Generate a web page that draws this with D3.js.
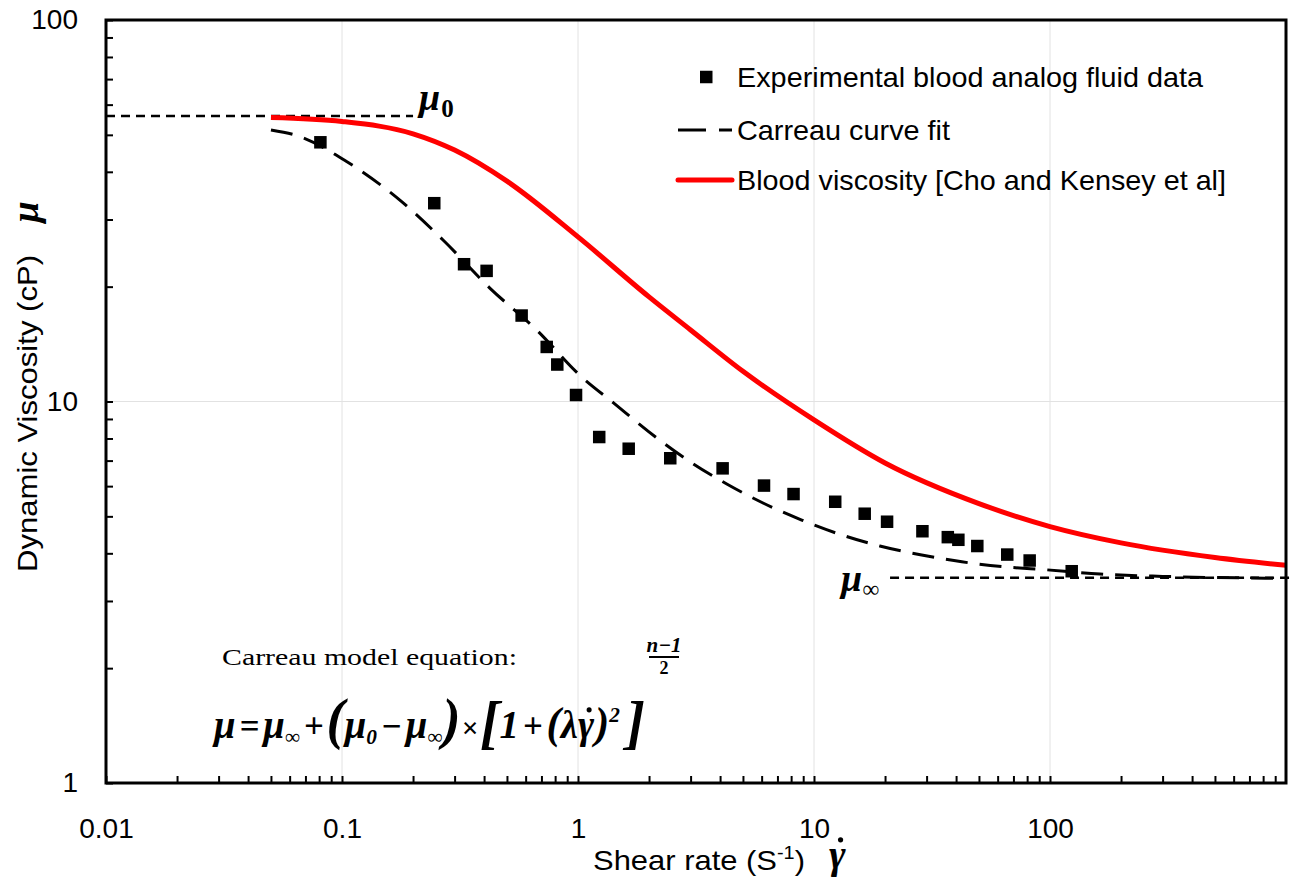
<!DOCTYPE html>
<html>
<head>
<meta charset="utf-8">
<script src="https://cdn.jsdelivr.net/npm/d3@7"></script>
<style>
  body { margin: 0; background: #fff; }
  svg { font-family: "Liberation Sans", Arial, sans-serif; }
  svg text { fill: #000; white-space: pre; }
  .serif { font-family: "Liberation Serif", "Times New Roman", serif; font-weight: bold; font-style: italic; }
  .times { font-family: "Liberation Serif", "Times New Roman", serif; }
</style>
</head>
<body>
<script>
// measured blood analog fluid (squares)
const expShear = [0.081, 0.246, 0.329, 0.410, 0.577, 0.737, 0.817, 0.981, 1.23, 1.64, 2.46, 4.10,
                  6.14, 8.19, 12.3, 16.4, 20.4, 28.8, 36.9, 40.9, 49.2, 65.9, 82.0, 123.6];
const expVisc  = [47.8, 33.1, 22.9, 22.0, 16.8, 13.9, 12.5, 10.4, 8.07, 7.52, 7.10, 6.68,
                  6.02, 5.72, 5.46, 5.08, 4.84, 4.57, 4.41, 4.34, 4.18, 3.97, 3.83, 3.59];

// Carreau curve fit (black dashes)
const fitShear = [0.05, 0.065, 0.105, 0.179, 0.268, 0.424, 0.668, 1.02, 1.41, 2.16, 3.03, 4.27,
                  6.08, 8.87, 13.1, 19.0, 28.6, 42.3, 63.2, 97.1, 163, 300, 1000];
const fitVisc  = [51.5, 49.7, 42.5, 33.4, 26.5, 19.8, 15.4, 11.7, 9.93, 8.02, 6.91, 6.08,
                  5.42, 4.89, 4.47, 4.18, 3.96, 3.80, 3.69, 3.62, 3.53, 3.48, 3.44];

// blood viscosity, Cho and Kensey (red)
const bloodShear = [0.05, 0.1, 0.2, 0.3, 0.5, 1, 2, 3, 5, 10, 20, 50, 100, 200, 500, 1000];
const bloodVisc  = [55.5, 54.2, 50.3, 45.6, 37.8, 27.0, 18.8, 15.4, 12.0, 8.95, 6.9, 5.4, 4.7, 4.26, 3.9, 3.72];

// limits mu_0 and mu_inf
const mu0 = 56, muInf = 3.45;
const mu0Span = [0.01, 0.2];
const muInfSpan = [21, 1100];

const xTickValues = [0.01, 0.1, 1, 10, 100];
const yTickValues = [1, 10, 100];
const gridX = [0.1, 1, 10, 100];
const gridY = [10];
const legendLabels = ["Experimental blood analog fluid data", "Carreau curve fit",
                      "Blood viscosity [Cho and Kensey et al]"];

let margin = null, width = null, height = null;
let svg = null;
let x, y = null;

setupCanvasSize();
appendSvg("body");
drawChart();

function setupCanvasSize() {
  margin = {top: 20, left: 106, bottom: 105, right: 9};
  width = 1295 - margin.left - margin.right;
  height = 888 - margin.top - margin.bottom;
}

function appendSvg(domElement) {
  svg = d3.select(domElement).append("svg")
    .attr("width", width + margin.left + margin.right)
    .attr("height", height + margin.top + margin.bottom)
    .append("g")
    .attr("transform", `translate(${margin.left}, ${margin.top})`);
}

function drawChart() {
  x = d3.scaleLog().domain([0.01, 1000]).range([0, width]);
  y = d3.scaleLog().domain([1, 100]).range([height, 0]);
  appendGrid();
  appendLimitLines();
  appendCurves();
  appendPoints();
  appendFrame();
  appendAxes();
  appendLegend();
  appendTitles();
  appendEquation();
}

function appendGrid() {
  const g = svg.append("g").attr("stroke", "#e2e2e2").attr("stroke-width", 1);
  g.selectAll("line.gx").data(gridX).enter().append("line")
    .attr("x1", d => x(d)).attr("x2", d => x(d)).attr("y1", 0).attr("y2", height);
  g.selectAll("line.gy").data(gridY).enter().append("line")
    .attr("y1", d => y(d)).attr("y2", d => y(d)).attr("x1", 0).attr("x2", width);
}

// small dot over a gamma glyph (the combining dot renders badly)
function dotOver(parent, tspan, size) {
  const b = tspan.node().getBBox();
  parent.append("circle")
    .attr("cx", b.x + b.width * 0.68)
    .attr("cy", b.y + b.height - size * 0.93)
    .attr("r", size * 0.065)
    .attr("fill", "#000");
}

function appendLimitLines() {
  svg.append("line")
    .attr("x1", x(mu0Span[0])).attr("x2", x(mu0Span[1]))
    .attr("y1", y(mu0)).attr("y2", y(mu0))
    .attr("stroke", "#000").attr("stroke-width", 2.5).attr("stroke-dasharray", "9,6");
  svg.append("line")
    .attr("x1", x(muInfSpan[0])).attr("x2", x(muInfSpan[1]))
    .attr("y1", y(muInf)).attr("y2", y(muInf))
    .attr("stroke", "#000").attr("stroke-width", 2.5).attr("stroke-dasharray", "9,6");

  // mu_0 / mu_inf labels
  const t0 = svg.append("text").attr("class", "serif")
    .attr("x", 419 - margin.left).attr("y", 110 - margin.top).attr("font-size", 38);
  t0.append("tspan").text("μ");
  t0.append("tspan").attr("class", "times").attr("font-weight", "bold").attr("font-style", "normal")
    .attr("font-size", 25).attr("dy", 7).attr("dx", 1).text("0");

  const t1 = svg.append("text").attr("class", "serif")
    .attr("x", 841 - margin.left).attr("y", 591 - margin.top).attr("font-size", 38);
  t1.append("tspan").text("μ");
  t1.append("tspan").attr("font-size", 24).attr("dy", 6).text("∞");
}

function appendCurves() {
  const line = d3.line()
    .x(d => x(d[0]))
    .y(d => y(d[1]))
    .curve(d3.curveMonotoneX);

  svg.append("path")
    .datum(d3.zip(bloodShear, bloodVisc))
    .attr("fill", "none").attr("stroke", "#ff0000").attr("stroke-width", 5)
    .attr("d", line);

  svg.append("path")
    .datum(d3.zip(fitShear, fitVisc))
    .attr("fill", "none").attr("stroke", "#000").attr("stroke-width", 3)
    .attr("stroke-dasharray", "22,12")
    .attr("d", line);
}

function appendPoints() {
  const s = 12.5;
  svg.selectAll("rect.pt")
    .data(d3.zip(expShear, expVisc))
    .enter().append("rect")
    .attr("class", "pt")
    .attr("x", d => x(d[0]) - s / 2)
    .attr("y", d => y(d[1]) - s / 2)
    .attr("width", s).attr("height", s)
    .attr("fill", "#000");
}

function appendFrame() {
  svg.append("rect")
    .attr("x", 0).attr("y", 0).attr("width", width).attr("height", height)
    .attr("fill", "none").attr("stroke", "#000").attr("stroke-width", 3);
}

function isLabel(list, d) {
  return list.some(v => Math.abs(v - d) / v < 1e-6);
}

function appendAxes() {
  const fmt = d3.format("~g");
  const gx = svg.append("g")
    .attr("transform", `translate(0, ${height})`)
    .call(d3.axisBottom(x)
      .tickValues(x.ticks().filter(d => d < 1000))
      .tickSizeInner(-7).tickSizeOuter(0).tickPadding(35)
      .tickFormat(d => isLabel(xTickValues, d) ? fmt(d) : ""));
  const gy = svg.append("g")
    .call(d3.axisLeft(y)
      .tickValues(y.ticks())
      .tickSizeInner(-7).tickSizeOuter(0).tickPadding(28)
      .tickFormat(d => isLabel(yTickValues, d) ? fmt(d) : ""));
  [gx, gy].forEach(g => {
    g.select(".domain").remove();
    g.selectAll(".tick line").attr("stroke", "#000").attr("stroke-width", 2);
    g.selectAll(".tick text").attr("font-size", 28).attr("font-family", null);
  });
}

function appendLegend() {
  const lg = svg.append("g").attr("transform", `translate(${-margin.left}, ${-margin.top})`);
  const rows = [77, 130, 180];
  const lens = [466, 213, 489];
  lg.append("rect").attr("x", 700).attr("y", rows[0] - 6.25).attr("width", 12.5).attr("height", 12.5).attr("fill", "#000");
  lg.append("line").attr("x1", 678).attr("x2", 732).attr("y1", rows[1]).attr("y2", rows[1])
    .attr("stroke", "#000").attr("stroke-width", 3).attr("stroke-dasharray", "28,13");
  lg.append("line").attr("x1", 678).attr("x2", 732).attr("y1", rows[2]).attr("y2", rows[2])
    .attr("stroke", "#ff0000").attr("stroke-width", 5).attr("stroke-linecap", "round");
  lg.selectAll("text.lab").data(legendLabels).enter().append("text")
    .attr("class", "lab")
    .attr("x", 737).attr("y", (d, i) => rows[i]).attr("dy", "0.36em")
    .attr("font-size", 28)
    .attr("textLength", (d, i) => lens[i]).attr("lengthAdjust", "spacingAndGlyphs")
    .text(d => d);
}

function appendTitles() {
  const g = svg.append("g").attr("transform", `translate(${-margin.left}, ${-margin.top})`);
  const xt = g.append("text")
    .attr("x", 593).attr("y", 870).attr("font-size", 28)
    .attr("textLength", 212).attr("lengthAdjust", "spacingAndGlyphs");
  xt.append("tspan").text("Shear rate (S");
  xt.append("tspan").attr("font-size", 18).attr("dy", -11).text("-1");
  xt.append("tspan").attr("dy", 11).text(")");
  const xg = g.append("text").attr("class", "serif").attr("x", 829).attr("y", 868).attr("font-size", 40);
  const gam = xg.append("tspan").text("γ");
  dotOver(g, gam, 40);

  g.append("text")
    .attr("transform", "translate(37, 572) rotate(-90)")
    .attr("font-size", 28)
    .attr("textLength", 317).attr("lengthAdjust", "spacingAndGlyphs")
    .text("Dynamic Viscosity (cP)");
  g.append("text").attr("class", "serif")
    .attr("transform", "translate(38, 212) rotate(-90)")
    .attr("text-anchor", "middle").attr("font-size", 38)
    .text("μ");
}

function appendEquation() {
  const g = svg.append("g").attr("transform", `translate(${-margin.left}, ${-margin.top})`);
  g.append("text")
    .attr("class", "times")
    .attr("x", 222).attr("y", 665)
    .attr("font-size", 24)
    .attr("textLength", 295).attr("lengthAdjust", "spacingAndGlyphs")
    .text("Carreau model equation:");

  // [text, size, baseline shift, dx]
  const parts = [
    ["μ", 40, 0, 0], ["=", 36, 0, 4], ["μ", 40, 0, 4], ["∞", 22, 6, 0], ["+", 36, 0, 4], ["(", 56, 0, 3],
    ["μ", 40, 0, 0], ["0", 22, 6, 0], ["−", 36, 0, 4], ["μ", 40, 0, 4], ["∞", 22, 6, 0], [")", 56, 0, 0],
    ["×", 30, 0, 1], ["[", 60, 4, 2], ["1", 40, 0, 0], ["+", 36, 0, 4], ["(", 44, 0, 4], ["λ", 40, 0, 0],
    ["γ", 40, 0, 0], [")", 44, 0, 1], ["2", 22, -16, 0], ["]", 60, 4, 6]
  ];
  const eg = g.append("g");
  const eq = eg.append("text").attr("class", "serif").attr("x", 0).attr("y", 0);
  let shift = 0;
  let gamma = null;
  parts.forEach(p => {
    const t = eq.append("tspan").attr("font-size", p[1]).attr("dy", p[2] - shift).attr("dx", p[3]).text(p[0]);
    if (p[0] === "γ") gamma = t;
    shift = p[2];
  });
  dotOver(eg, gamma, 40);

  const bb = eq.node().getBBox();
  const targetW = 433;
  eg.attr("transform", `translate(214, 738) scale(${targetW / bb.width}, 1)`);

  const fx = 214 + targetW + 17;
  g.append("text").attr("class", "serif").attr("x", fx).attr("y", 652)
    .attr("text-anchor", "middle").attr("font-size", 21).text("n−1");
  g.append("line").attr("x1", fx - 15).attr("x2", fx + 15).attr("y1", 657).attr("y2", 657)
    .attr("stroke", "#000").attr("stroke-width", 2);
  g.append("text").attr("class", "times").attr("font-weight", "bold").attr("x", fx).attr("y", 674)
    .attr("text-anchor", "middle").attr("font-size", 18).text("2");
}
</script>
</body>
</html>
